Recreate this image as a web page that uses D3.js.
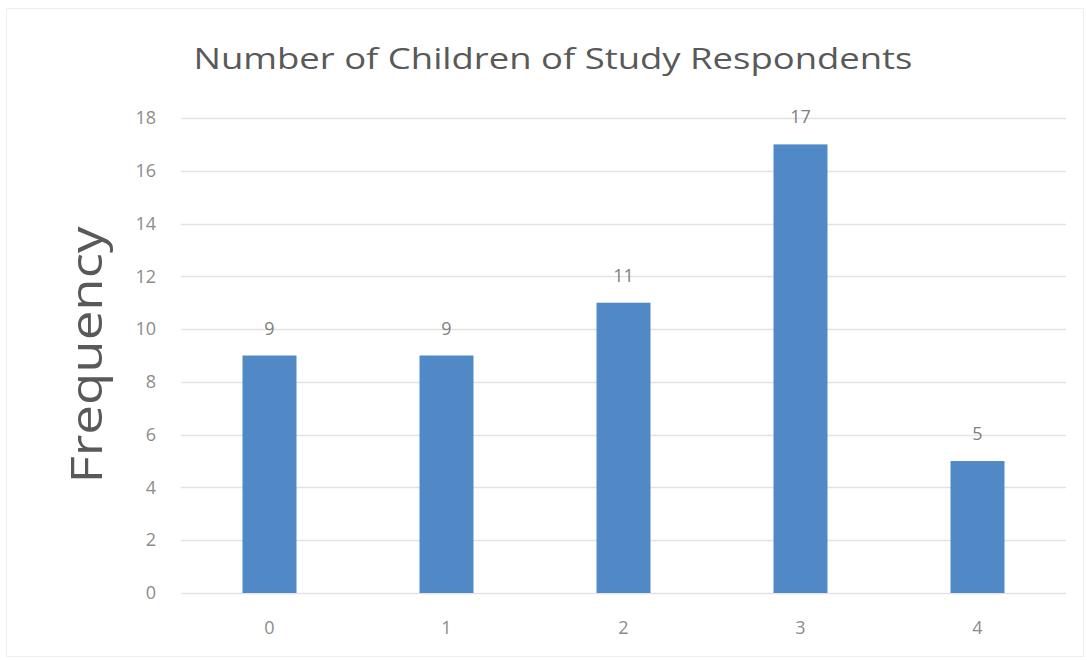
<!DOCTYPE html>
<html>
<head>
<meta charset="utf-8">
<script src="https://cdn.jsdelivr.net/npm/d3@7"></script>
<style>
  html, body { margin: 0; padding: 0; background: #ffffff; }
  svg { display: block; }
  text { font-family: "Open Sans", "Liberation Sans", sans-serif; }
</style>
</head>
<body>
<svg id="chart" width="1087" height="660"></svg>
<script>
// Number of children reported by each study respondent
const categories = ["0", "1", "2", "3", "4"];
const frequencies = [9, 9, 11, 17, 5];
const yTicks = [0, 2, 4, 6, 8, 10, 12, 14, 16, 18];
const chartTitle = "Number of Children of Study Respondents";
const yTitle = "Frequency";

const svg = d3.select("#chart");
const W = 1087, H = 660;
const plot = { left: 181, right: 1066, top: 118, bottom: 593 };

// faint outer frame of the chart area
svg.append("rect")
  .attr("x", 6.5).attr("y", 8.5)
  .attr("width", W - 10).attr("height", H - 12)
  .attr("fill", "#ffffff")
  .attr("stroke", "#efefef").attr("stroke-width", 1);

const x = d3.scaleBand()
  .domain(categories)
  .range([plot.left, plot.right])
  .paddingInner(0.695)
  .paddingOuter(0.3475);

const y = d3.scaleLinear()
  .domain([0, 18])
  .range([plot.bottom, plot.top]);

// horizontal gridlines
svg.append("g")
  .selectAll("line")
  .data(yTicks)
  .join("line")
  .attr("x1", plot.left).attr("x2", plot.right)
  .attr("y1", d => Math.round(y(d)) + 0.5)
  .attr("y2", d => Math.round(y(d)) + 0.5)
  .attr("stroke", "#e2e2e2").attr("stroke-width", 1.5);

// y axis tick labels
const yAxis = d3.axisLeft(y).tickValues(yTicks).tickSize(0).tickPadding(0);
const gy = svg.append("g")
  .attr("transform", `translate(${plot.left - 25},0)`)
  .call(yAxis);
gy.select(".domain").remove();
gy.selectAll("text")
  .attr("fill", "#8c8c8c")
  .style("font-size", "18px")
  .style("font-family", "'Open Sans', sans-serif");

// x axis tick labels
const xAxis = d3.axisBottom(x).tickSize(0).tickPadding(0);
const gx = svg.append("g")
  .attr("transform", `translate(0,${plot.bottom + 28})`)
  .call(xAxis);
gx.select(".domain").remove();
gx.selectAll("text")
  .attr("fill", "#8c8c8c")
  .style("font-size", "18px")
  .style("font-family", "'Open Sans', sans-serif");

// bars
svg.append("g")
  .selectAll("rect")
  .data(frequencies)
  .join("rect")
  .attr("x", (d, i) => x(categories[i]))
  .attr("width", x.bandwidth())
  .attr("y", d => y(d))
  .attr("height", d => y(0) - y(d))
  .attr("fill", "#5089c6");

// value labels above bars
svg.append("g")
  .selectAll("text")
  .data(frequencies)
  .join("text")
  .attr("x", (d, i) => x(categories[i]) + x.bandwidth() / 2)
  .attr("y", d => y(d) - 21)
  .attr("text-anchor", "middle")
  .attr("fill", "#7f7f7f")
  .style("font-size", "18px")
  .text(d => d);

// chart title
svg.append("text")
  .attr("x", 553).attr("y", 69)
  .attr("text-anchor", "middle")
  .attr("fill", "#595959")
  .style("font-size", "30px")
  .attr("textLength", 719)
  .attr("lengthAdjust", "spacingAndGlyphs")
  .text(chartTitle);

// y axis title
svg.append("text")
  .attr("transform", "translate(102,355) rotate(-90)")
  .attr("text-anchor", "middle")
  .attr("fill", "#595959")
  .style("font-size", "44px")
  .attr("textLength", 257)
  .attr("lengthAdjust", "spacingAndGlyphs")
  .text(yTitle);
</script>
</body>
</html>
